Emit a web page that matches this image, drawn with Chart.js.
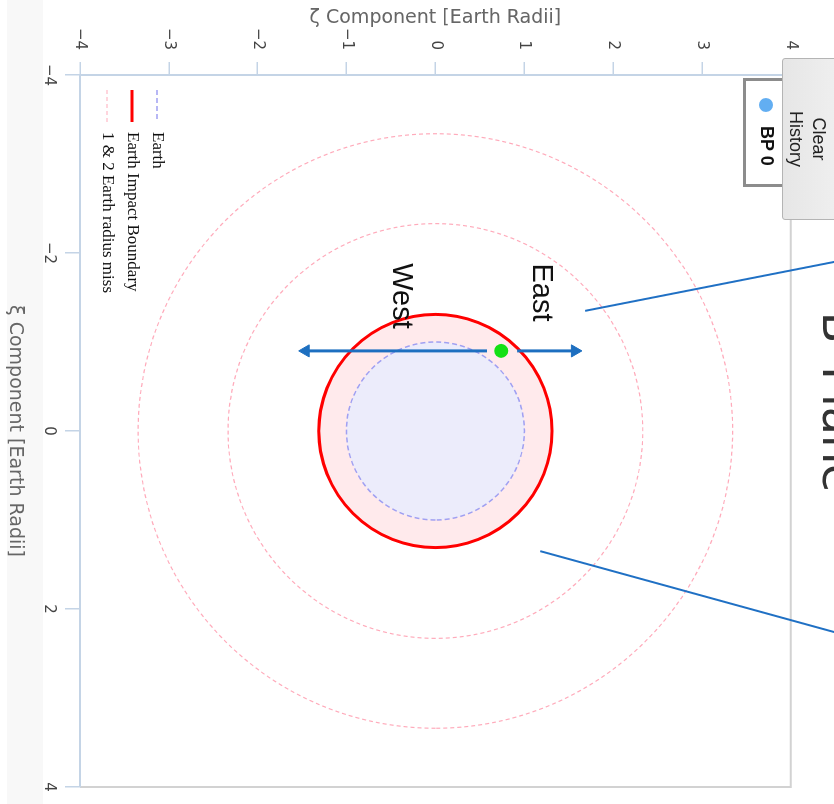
<!DOCTYPE html>
<html>
<head>
<meta charset="utf-8">
<script src="https://cdn.jsdelivr.net/npm/chart.js@4/dist/chart.umd.min.js"></script>
<style>
  html, body { margin: 0; padding: 0; background: #fff; width: 834px; height: 804px; overflow: hidden; }
  /* the plot is laid out upright, then turned a quarter turn clockwise */
  #stage { position: absolute; left: 0; top: 0; width: 804px; height: 880px;
           transform-origin: 0 0; transform: translate(880px, 0) rotate(90deg); }
  #band { position: absolute; left: 0; top: 837px; width: 804px; height: 36px; background: #f8f8f8; }
  #plot { position: absolute; left: 0; top: 0; }
  #clear { position: absolute; left: 58px; top: 6px; width: 162px; height: 92px; box-sizing: border-box;
           border: 1px solid #b4b4b4; border-radius: 3px; background: linear-gradient(#f5f5f5, #e6e6e6);
           font: 18px "Liberation Sans", Arial, sans-serif; color: #222; text-align: center; line-height: 23px;
           display: flex; flex-direction: column; justify-content: flex-end; padding-bottom: 1px; z-index: 3; }
  #bpbox { position: absolute; left: 78px; top: 90px; width: 109px; height: 47px; box-sizing: border-box;
           border: 3px solid #8c8c8c; background: #fff; z-index: 2; }
  #bpbox .dot { position: absolute; left: 17px; top: 14px; width: 14px; height: 14px; border-radius: 50%; background: #62aef2; }
  #bpbox .txt { position: absolute; left: 45px; top: 8px; font: bold 18px "Liberation Sans", Arial, sans-serif; color: #111; line-height: 24px; }
</style>
</head>
<body>
<div id="stage">
  <div id="band"></div>
  <canvas id="plot" width="804" height="880"></canvas>
  <div id="clear"><div>Clear</div><div>History</div></div>
  <div id="bpbox"><span class="dot"></span><span class="txt">BP 0</span></div>
</div>
<script>
// Ring radii in Earth radii, all centred on the Earth
const centreXi = 0;
const centreZeta = 0;
const earthRadius = [1.0];
const impactRadius = [1.31];
const missRadii = [2.33, 3.34];

// B-plane crossing point
const bpXi = [-0.90];
const bpZeta = [0.74];

// Direction arrows (start, head)
const eastArrowXi = [-0.90, -0.90];
const eastArrowZeta = [0.92, 1.57];
const westArrowXi = [-0.90, -0.90];
const westArrowZeta = [0.58, -1.46];

// Callout leader lines (inner end, outer end)
const callout1Xi = [-1.35, -2.00];
const callout1Zeta = [1.685, 5.0];
const callout2Xi = [1.35, 2.40];
const callout2Zeta = [1.18, 5.0];

// Direction labels
const dirLabels = ['East', 'West'];
const dirLabelXi = [-1.556, -1.517];
const dirLabelZeta = [1.10, -0.48];

// Axis tick labels
const xiTickLabels = ['\u22124', '\u22122', '0', '2', '4'];
const zetaTickLabels = ['\u22124', '\u22123', '\u22122', '\u22121', '0', '1', '2', '3', '4'];

const AXIS_BLUE = '#c4d4e6';
const ARROW_BLUE = '#1d6fc0';

function unitPx(chart, r) {
  const s = chart.scales.x;
  return s.getPixelForValue(centreXi + r) - s.getPixelForValue(centreXi);
}
function pts(xs, ys) { return xs.map((v, i) => ({ x: v, y: ys[i] })); }
function centres(radii) { return radii.map(() => ({ x: centreXi, y: centreZeta })); }

// dashed outlines for ring datasets
const ringDash = {
  id: 'ringDash',
  beforeDatasetDraw(chart, args) {
    const ds = chart.data.datasets[args.index];
    if (ds.ringDash) chart.ctx.setLineDash(ds.ringDash);
  },
  afterDatasetDraw(chart) { chart.ctx.setLineDash([]); }
};

// grey frame along the top and right of the plot area
const plotFrame = {
  id: 'plotFrame',
  beforeDraw(chart) {
    const { ctx, chartArea: a } = chart;
    ctx.save();
    ctx.strokeStyle = '#d2d2d2';
    ctx.lineWidth = 2;
    ctx.beginPath();
    ctx.moveTo(a.left, a.top); ctx.lineTo(a.right, a.top); ctx.lineTo(a.right, a.bottom);
    ctx.stroke();
    ctx.restore();
  }
};

// key for the rings, inside the lower left corner of the plot
const ringKey = {
  id: 'ringKey',
  afterDatasetsDraw(chart) {
    const { ctx, chartArea: a } = chart;
    const items = chart.data.datasets.filter(d => d.inKey);
    ctx.save();
    ctx.font = '17px "Liberation Serif", "Times New Roman", serif';
    ctx.textBaseline = 'middle';
    ctx.textAlign = 'left';
    items.forEach((d, i) => {
      const yy = a.bottom - 27 - (items.length - 1 - i) * 25;
      const x0 = a.left + 15;
      ctx.beginPath();
      ctx.setLineDash(d.ringDash || []);
      ctx.strokeStyle = d.pointBorderColor;
      ctx.lineWidth = d.pointBorderWidth;
      ctx.moveTo(x0, yy); ctx.lineTo(x0 + 32, yy);
      ctx.stroke();
      ctx.setLineDash([]);
      ctx.fillStyle = '#111';
      ctx.fillText(d.label, x0 + 42, yy);
    });
    ctx.restore();
  }
};

// East / West labels
const dirText = {
  id: 'dirText',
  afterDatasetsDraw(chart) {
    const { ctx, scales: { x, y } } = chart;
    ctx.save();
    ctx.font = '29px "Liberation Sans", Arial, sans-serif';
    ctx.fillStyle = '#111';
    ctx.textAlign = 'center';
    ctx.textBaseline = 'alphabetic';
    dirLabels.forEach((t, i) => ctx.fillText(t, x.getPixelForValue(dirLabelXi[i]), y.getPixelForValue(dirLabelZeta[i])));
    ctx.restore();
  }
};

const axisFont = { family: '"DejaVu Sans", sans-serif', size: 15 };
const titleFont = { family: '"DejaVu Sans", sans-serif', size: 19 };

new Chart(document.getElementById('plot'), {
  type: 'scatter',
  data: {
    datasets: [
      {
        label: 'Earth', inKey: true, order: 5,
        data: centres(earthRadius),
        pointRadius: c => unitPx(c.chart, earthRadius[c.dataIndex]),
        pointBackgroundColor: '#ececfb', pointBorderColor: '#a0a0f2', pointBorderWidth: 1.5,
        ringDash: [5, 3]
      },
      {
        label: 'Earth Impact Boundary', inKey: true, order: 6,
        data: centres(impactRadius),
        pointRadius: c => unitPx(c.chart, impactRadius[c.dataIndex]),
        pointBackgroundColor: '#ffeaec', pointBorderColor: '#ff0000', pointBorderWidth: 3
      },
      {
        label: '1 & 2 Earth radius miss', inKey: true, order: 7,
        data: centres(missRadii),
        pointRadius: c => unitPx(c.chart, missRadii[c.dataIndex]),
        pointBackgroundColor: 'rgba(0,0,0,0)', pointBorderColor: '#ffabbb', pointBorderWidth: 1.2,
        ringDash: [4, 3]
      },
      {
        label: 'East arrow', order: 2, showLine: true, clip: false,
        data: pts(eastArrowXi, eastArrowZeta),
        borderColor: ARROW_BLUE, borderWidth: 3,
        pointRadius: [0, 7], pointStyle: 'triangle', pointRotation: [0, 0],
        pointBackgroundColor: ARROW_BLUE, pointBorderColor: ARROW_BLUE, pointBorderWidth: 1
      },
      {
        label: 'West arrow', order: 2, showLine: true, clip: false,
        data: pts(westArrowXi, westArrowZeta),
        borderColor: ARROW_BLUE, borderWidth: 3,
        pointRadius: [0, 7], pointStyle: 'triangle', pointRotation: [0, 180],
        pointBackgroundColor: ARROW_BLUE, pointBorderColor: ARROW_BLUE, pointBorderWidth: 1
      },
      {
        label: 'BP 0', order: 1,
        data: pts(bpXi, bpZeta),
        pointRadius: 7, pointBackgroundColor: '#14e014', pointBorderWidth: 0
      },
      {
        label: 'callout 1', order: 0, showLine: true, clip: false,
        data: pts(callout1Xi, callout1Zeta),
        borderColor: '#1f70c4', borderWidth: 2, pointRadius: 0
      },
      {
        label: 'callout 2', order: 0, showLine: true, clip: false,
        data: pts(callout2Xi, callout2Zeta),
        borderColor: '#1f70c4', borderWidth: 2, pointRadius: 0
      }
    ]
  },
  options: {
    responsive: false,
    animation: false,
    devicePixelRatio: 1,
    events: [],
    layout: { padding: 0 },
    plugins: {
      legend: { display: false },
      tooltip: { enabled: false },
      title: {
        display: true, text: 'B\u2013Plane', color: '#333',
        font: { family: '"DejaVu Sans", sans-serif', size: 46, weight: 'normal' },
        padding: { top: 17, bottom: 17 }
      }
    },
    scales: {
      x: {
        type: 'linear', position: 'bottom', min: -4, max: 4,
        ticks: { stepSize: 2, color: '#444', font: axisFont, padding: 7, maxRotation: 0,
                 callback: (v, i) => xiTickLabels[i] },
        grid: { drawOnChartArea: false, drawTicks: true, tickLength: 15, color: AXIS_BLUE, lineWidth: 1.5 },
        border: { display: true, color: AXIS_BLUE, width: 2 },
        title: { display: true, text: '\u03be Component [Earth Radii]', color: '#666', font: titleFont,
                 padding: { top: 0, bottom: 3.6 } },
        afterFit(s) { s.height = 80; }
      },
      y: {
        type: 'linear', position: 'left', min: -4, max: 4,
        ticks: { stepSize: 1, color: '#444', font: axisFont, padding: 12,
                 callback: (v, i) => zetaTickLabels[i] },
        grid: { drawOnChartArea: false, drawTicks: true, tickLength: 13, color: AXIS_BLUE, lineWidth: 1.5 },
        border: { display: true, color: AXIS_BLUE, width: 2 },
        title: { display: true, text: '\u03b6 Component [Earth Radii]', color: '#666', font: titleFont,
                 padding: { top: 6.6, bottom: 0 } },
        afterFit(s) { s.width = 75; }
      },
      yR: {
        type: 'linear', position: 'right', min: -4, max: 4, display: true,
        ticks: { display: false }, grid: { display: false, drawTicks: false }, border: { display: false },
        afterFit(s) { s.width = 17; }
      }
    }
  },
  plugins: [plotFrame, ringDash, ringKey, dirText]
});
</script>
</body>
</html>
